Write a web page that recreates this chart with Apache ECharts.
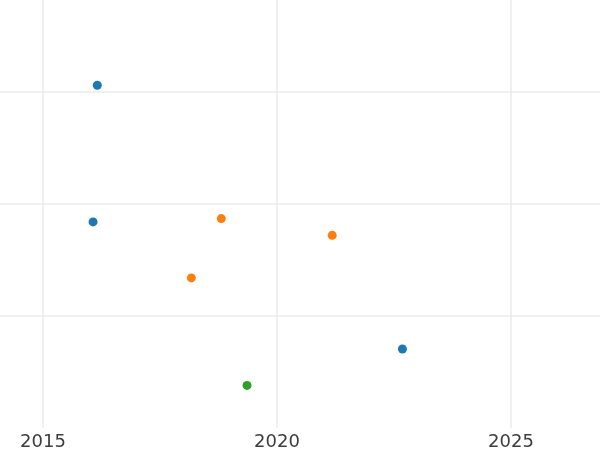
<!DOCTYPE html>
<html>
<head>
<meta charset="utf-8">
<script src="https://cdn.jsdelivr.net/npm/echarts@6/dist/echarts.min.js"></script>
<style>html,body{margin:0;padding:0;background:#fff}#c{width:600px;height:450px}</style>
</head>
<body>
<div id="c"></div>
<script>
const xTicks = [2015, 2020, 2025];
const seriesNames = ['A', 'B', 'C'];
const blueX = [2016.16, 2016.07, 2022.68];
const blueY = [3.06, 1.84, 0.705];
const orangeX = [2018.81, 2018.17, 2021.18];
const orangeY = [1.87, 1.34, 1.72];
const greenX = [2019.36];
const greenY = [0.38];
const colors = ['#1f77b4', '#ff7f0e', '#2ca02c'];

function pairs(xs, ys) { return xs.map((x, i) => [x, ys[i]]); }

const chart = echarts.init(document.getElementById('c'), null, {renderer: 'canvas'});
chart.setOption({
  animation: false,
  grid: {left: -191, right: -145, top: -20, bottom: 22, containLabel: false, outerBoundsMode: 'none'},
  xAxis: {
    type: 'value', min: 2010, max: 2030, interval: 5,
    axisLine: {show: false}, axisTick: {show: false},
    axisLabel: {
      color: '#3d3d3d', fontSize: 18, fontFamily: 'DejaVu Sans', margin: 5,
      formatter: v => (xTicks.indexOf(v) >= 0 ? String(v) : '')
    },
    splitLine: {show: true, lineStyle: {color: '#ebebeb', width: 1.5}}
  },
  yAxis: {
    type: 'value', min: 0, max: 4, interval: 1,
    axisLine: {show: false}, axisTick: {show: false}, axisLabel: {show: false},
    splitLine: {show: true, showMinLine: false, showMaxLine: false, lineStyle: {color: '#ebebeb', width: 1.5}}
  },
  series: [
    {name: seriesNames[0], type: 'scatter', symbolSize: 9, itemStyle: {color: colors[0], opacity: 1}, data: pairs(blueX, blueY)},
    {name: seriesNames[1], type: 'scatter', symbolSize: 9, itemStyle: {color: colors[1], opacity: 1}, data: pairs(orangeX, orangeY)},
    {name: seriesNames[2], type: 'scatter', symbolSize: 9, itemStyle: {color: colors[2], opacity: 1}, data: pairs(greenX, greenY)}
  ]
});
</script>
</body>
</html>
